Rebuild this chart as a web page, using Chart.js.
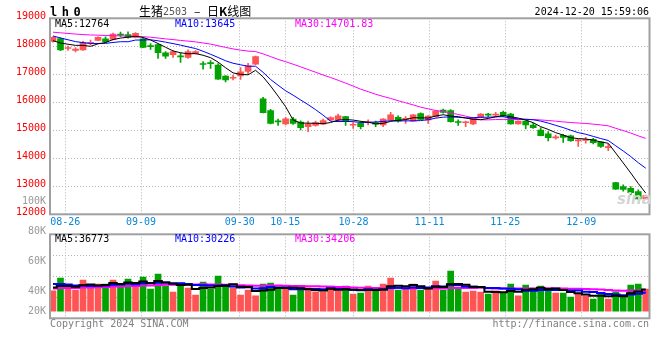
<!DOCTYPE html>
<html>
<head>
<meta charset="utf-8">
<script src="https://cdn.jsdelivr.net/npm/chart.js@4.4.1/dist/chart.umd.min.js"></script>
<style>
  body { margin: 0; background: #fff; }
  #wrap { position: relative; width: 660px; height: 360px; overflow: hidden; font-family: "DejaVu Sans Mono", monospace; font-size: 10px; }
  #wrap canvas { position: absolute; left: 0; }
  .t { position: absolute; line-height: 10px; white-space: pre; }
  .cjk { font-family: "Noto Sans CJK SC", sans-serif; font-size: 12px; line-height: 12px; }
  .gray { color: #999; }
</style>
</head>
<body>
<div id="wrap">
  <canvas id="kline" width="660" height="236" style="top:0"></canvas>
  <canvas id="vol" width="660" height="96" style="top:228px"></canvas>

  <div class="t" style="left:50px;top:6px;font-weight:bold;font-size:12px;line-height:12px;letter-spacing:4.5px">lh0</div>
  <div class="t cjk" style="left:139px;top:5px">生猪</div>
  <div class="t" style="left:163px;top:6.5px;color:#555">2503</div>
  <div class="t cjk" style="left:194px;top:5px">–</div>
  <div class="t cjk" style="left:207px;top:5px">日<b>K</b>线图</div>
  <div class="t" style="right:11px;top:7px">2024-12-20 15:59:06</div>

  <div class="t" style="left:55px;top:19px;color:#000">MA5:12764</div>
  <div class="t" style="left:175px;top:19px;color:#0000ff">MA10:13645</div>
  <div class="t" style="left:295px;top:19px;color:#ff00ff">MA30:14701.83</div>

  <div class="t" style="left:55px;top:233.5px;color:#000">MA5:36773</div>
  <div class="t" style="left:175px;top:233.5px;color:#0000ff">MA10:30226</div>
  <div class="t" style="left:295px;top:233.5px;color:#ff00ff">MA30:34206</div>

  <div class="t gray" style="right:614px;top:196px">100K</div>
  <div class="t gray" style="right:614px;top:226px">80K</div>
  <div class="t gray" style="right:614px;top:256px">60K</div>
  <div class="t gray" style="right:614px;top:286px">40K</div>
  <div class="t gray" style="right:614px;top:306px">20K</div>

  <div class="t" style="left:617px;top:192px;font:italic bold 15px 'DejaVu Sans';line-height:15px;color:#d4d4d4">sina</div>

  <div class="t" style="left:50px;top:318.5px;color:#808080">Copyright 2024 SINA.COM</div>
  <div class="t" style="right:11px;top:318.5px;color:#808080">http://finance.sina.com.cn</div>
</div>

<script>
// trading days shown (08-22 .. 12-20)
const dates = [
  "08-22", "08-23", "08-26", "08-27", "08-28", "08-29", "08-30", "09-02", "09-03", "09-04",
  "09-05", "09-06", "09-09", "09-10", "09-11", "09-12", "09-13", "09-18", "09-19", "09-20",
  "09-23", "09-24", "09-25", "09-26", "09-27", "09-30", "10-08", "10-09", "10-10", "10-11",
  "10-14", "10-15", "10-16", "10-17", "10-18", "10-21", "10-22", "10-23", "10-24", "10-25",
  "10-28", "10-29", "10-30", "10-31", "11-01", "11-04", "11-05", "11-06", "11-07", "11-08",
  "11-11", "11-12", "11-13", "11-14", "11-15", "11-18", "11-19", "11-20", "11-21", "11-22",
  "11-25", "11-26", "11-27", "11-28", "11-29", "12-02", "12-03", "12-04", "12-05", "12-06",
  "12-09", "12-10", "12-11", "12-12", "12-13", "12-16", "12-17", "12-18", "12-19", "12-20"
];
const tickLabels = ["08-26", "09-09", "09-30", "10-15", "10-28", "11-11", "11-25", "12-09"];

const open = [
  18170, 18280, 17920, 17850, 17870, 18110, 18210, 18270, 18250, 18420,
  18420, 18320, 18270, 18010, 18060, 17770, 17700, 17650, 17600, 17740,
  17370, 17400, 17330, 16940, 16860, 16940, 17100, 17360, 16120, 15700,
  15320, 15230, 15400, 15290, 15130, 15170, 15220, 15370, 15370, 15490,
  15180, 15250, 15270, 15280, 15190, 15370, 15460, 15390, 15330, 15600,
  15370, 15490, 15720, 15700, 15300, 15270, 15225, 15450, 15560, 15540,
  15640, 15580, 15230, 15330, 15190, 15010, 14870, 14730, 14820, 14800,
  14620, 14640, 14680, 14590, 14380, 13130, 12990, 12930, 12810, 12550
];
const high = [
  18350, 18300, 18010, 17950, 18180, 18220, 18340, 18340, 18470, 18510,
  18520, 18490, 18290, 18100, 18070, 17810, 17840, 17770, 17870, 17850,
  17450, 17490, 17380, 16950, 16975, 17240, 17390, 17650, 16180, 15750,
  15400, 15460, 15460, 15340, 15330, 15330, 15400, 15480, 15580, 15500,
  15280, 15310, 15370, 15330, 15420, 15640, 15520, 15490, 15560, 15620,
  15530, 15700, 15760, 15740, 15370, 15330, 15450, 15600, 15610, 15640,
  15690, 15610, 15340, 15340, 15250, 15100, 14950, 14830, 14860, 14830,
  14680, 14750, 14710, 14600, 14500, 13140, 13050, 12990, 12870, 12690
];
const low = [
  18150, 17840, 17850, 17800, 17850, 18050, 18200, 18130, 18230, 18340,
  18290, 18300, 17950, 17890, 17570, 17570, 17600, 17420, 17570, 17720,
  17180, 17210, 16820, 16725, 16800, 16820, 17010, 17340, 15620, 15225,
  15170, 15190, 15210, 15010, 14950, 15150, 15200, 15340, 15310, 15170,
  15070, 15050, 15190, 15130, 15130, 15360, 15290, 15250, 15320, 15380,
  15250, 15470, 15610, 15290, 15170, 15130, 15200, 15440, 15490, 15490,
  15490, 15220, 15220, 15050, 15070, 14800, 14620, 14680, 14570, 14600,
  14420, 14540, 14510, 14390, 14270, 12890, 12830, 12690, 12540, 12530
];
const close = [
  18320, 17870, 17940, 17900, 18140, 18140, 18320, 18165, 18440, 18400,
  18320, 18460, 17960, 17990, 17770, 17650, 17810, 17620, 17810, 17810,
  17350, 17380, 16830, 16800, 16890, 17090, 17300, 17630, 15630, 15250,
  15300, 15410, 15250, 15090, 15220, 15280, 15350, 15450, 15520, 15310,
  15200, 15130, 15290, 15220, 15400, 15550, 15330, 15410, 15550, 15390,
  15510, 15690, 15640, 15310, 15280, 15290, 15430, 15580, 15540, 15560,
  15520, 15230, 15330, 15190, 15090, 14810, 14740, 14750, 14750, 14630,
  14650, 14660, 14560, 14420, 14400, 12900, 12890, 12770, 12550, 12670
];
const volume = [
  36500, 59200, 42500, 37700, 55600, 44900, 48500, 48500, 55600, 46700,
  57400, 44900, 61000, 39500, 66400, 44900, 34100, 50300, 41300, 28700,
  52000, 39500, 62800, 44900, 41900, 28700, 37700, 27500, 48500, 50300,
  42500, 39500, 28700, 44900, 41900, 34700, 34700, 44900, 36500, 44900,
  30500, 32300, 44900, 37700, 48500, 59200, 37700, 39500, 48500, 37700,
  39500, 53900, 37700, 71800, 39500, 34100, 35900, 34100, 30500, 36500,
  31700, 48500, 27500, 46700, 41300, 44900, 37700, 32300, 32300, 25100,
  31700, 27500, 21500, 31700, 21500, 34700, 24500, 46700, 48500, 39500
];

// sessions before the visible window, estimated so the moving averages start where the picture shows
const prevClose = [
  18500, 18620, 18580, 18650, 18600, 18540, 18520, 18600, 18640, 18580,
  18560, 18500, 18540, 18600, 18560, 18580, 18520, 18560, 18600, 18540,
  18600, 18580, 18560, 18500, 18460, 18280, 18160, 18100, 18140
];
const prevVolume = [
  38000, 35000, 40000, 34000, 37000, 39000, 36000, 35000, 38000, 37000,
  36000, 40000, 35000, 37000, 38000, 36000, 37000, 35000, 38000, 35000,
  56000, 52000, 58000, 54000, 52500, 46000, 42000, 45000, 43000
];

const UP = "#ff5454";
const DOWN = "#00a300";

function movingAvg(prev, vals, n) {
  const all = prev.concat(vals);
  return vals.map(function (_, i) {
    const end = prev.length + i + 1;
    let s = 0;
    for (let k = end - n; k < end; k++) s += all[k];
    return s / n;
  });
}

const idx = dates.map(function (_, i) { return i; });
const tickIdx = tickLabels.map(function (d) { return dates.indexOf(d); });
const colors = idx.map(function (i) { return close[i] >= open[i] ? UP : DOWN; });
const pts = function (arr) { return arr.map(function (v, i) { return { x: i, y: v }; }); };

Chart.defaults.font.family = "'DejaVu Sans Mono', monospace";
Chart.defaults.font.size = 10;

// gray box round the plot area
const frame = {
  id: "frame",
  afterDraw(chart) {
    const a = chart.chartArea;
    const ctx = chart.ctx;
    ctx.save();
    ctx.strokeStyle = "#a0a0a0";
    ctx.lineWidth = 2;
    ctx.strokeRect(a.left, a.top, a.right - a.left, a.bottom - a.top);
    ctx.restore();
  },
};

const gridColor = "#b4b4b4";
const dots = [1, 2];

// candle axis (hidden) and date grid axis share the same plot area
function xScales(showLabels, height) {
  return {
    x: { type: "linear", min: -0.4, max: 79.5, offset: false, display: false, grid: { offset: false } },
    xg: {
      type: "linear",
      position: "bottom",
      min: 0,
      max: 79,
      offset: false,
      afterBuildTicks: function (s) { s.ticks = tickIdx.map(function (v) { return { value: v }; }); },
      afterFit: function (s) { s.height = height; },
      ticks: {
        display: showLabels,
        autoSkip: false,
        maxRotation: 0,
        padding: 2,
        color: "#0a88d8",
        callback: function (v) { return dates[v]; },
      },
      grid: { color: gridColor, drawTicks: false, offset: false },
      border: { display: false, dash: dots },
    },
  };
}

document.addEventListener("DOMContentLoaded", function () {
  const kScales = xScales(true, 21.7);
  kScales.y = {
    min: 12000,
    max: 19000,
    afterFit: function (s) { s.width = 50; },
    ticks: {
      stepSize: 1000,
      color: "#ff0000",
      padding: 4,
      labelOffset: -2.3,
      callback: function (v) { return String(v); },
    },
    grid: { color: gridColor, drawTicks: false },
    border: { display: false, dash: dots },
  };

  new Chart(document.getElementById("kline").getContext("2d"), {
    type: "bar",
    data: {
      datasets: [
        {
          label: "wick",
          data: idx.map(function (i) { return { x: i, y: [low[i], high[i]] }; }),
          backgroundColor: colors,
          barThickness: 1,
          grouped: false,
          order: 3,
        },
        {
          label: "body",
          data: idx.map(function (i) { return { x: i, y: [open[i], close[i]] }; }),
          backgroundColor: colors,
          barThickness: 6,
          minBarLength: 1,
          grouped: false,
          order: 2,
        },
        { type: "line", label: "MA5", data: pts(movingAvg(prevClose, close, 5)), borderColor: "#000000", borderWidth: 1, pointRadius: 0, order: 1 },
        { type: "line", label: "MA10", data: pts(movingAvg(prevClose, close, 10)), borderColor: "#0000ff", borderWidth: 1, pointRadius: 0, order: 1 },
        { type: "line", label: "MA30", data: pts(movingAvg(prevClose, close, 30)), borderColor: "#ff00ff", borderWidth: 1, pointRadius: 0, order: 1 },
      ],
    },
    options: {
      responsive: false,
      animation: false,
      layout: { padding: { top: 18.3, right: 10.5, left: 0, bottom: 0 } },
      plugins: { legend: { display: false }, tooltip: { enabled: false } },
      scales: kScales,
    },
    plugins: [frame],
  });

  // volume panel
  const vScales = xScales(false, 5.7);
  vScales.y = {
    min: -13000,
    max: 138000,
    afterFit: function (s) { s.width = 50; },
    afterBuildTicks: function (s) {
      const step = (s.max - s.min) / 4;
      s.ticks = [1, 2, 3].map(function (k) { return { value: s.max - k * step }; });
    },
    ticks: { display: false },
    grid: { color: gridColor, drawTicks: false },
    border: { display: false, dash: dots },
  };

  new Chart(document.getElementById("vol").getContext("2d"), {
    type: "bar",
    data: {
      datasets: [
        {
          label: "volume",
          data: pts(volume),
          backgroundColor: colors,
          barThickness: 6,
          grouped: false,
          order: 2,
        },
        { type: "line", label: "MA5", data: pts(movingAvg(prevVolume, volume, 5)), borderColor: "#000000", borderWidth: 2, pointRadius: 0, stepped: "middle", order: 1 },
        { type: "line", label: "MA10", data: pts(movingAvg(prevVolume, volume, 10)), borderColor: "#0000ff", borderWidth: 2, pointRadius: 0, stepped: "middle", order: 1 },
        { type: "line", label: "MA30", data: pts(movingAvg(prevVolume, volume, 30)), borderColor: "#ff00ff", borderWidth: 2, pointRadius: 0, stepped: "middle", order: 1 },
      ],
    },
    options: {
      responsive: false,
      animation: false,
      layout: { padding: { top: 6.3, right: 10.5, left: 0, bottom: 0 } },
      plugins: { legend: { display: false }, tooltip: { enabled: false } },
      scales: vScales,
    },
    plugins: [frame],
  });
});
</script>
</body>
</html>
